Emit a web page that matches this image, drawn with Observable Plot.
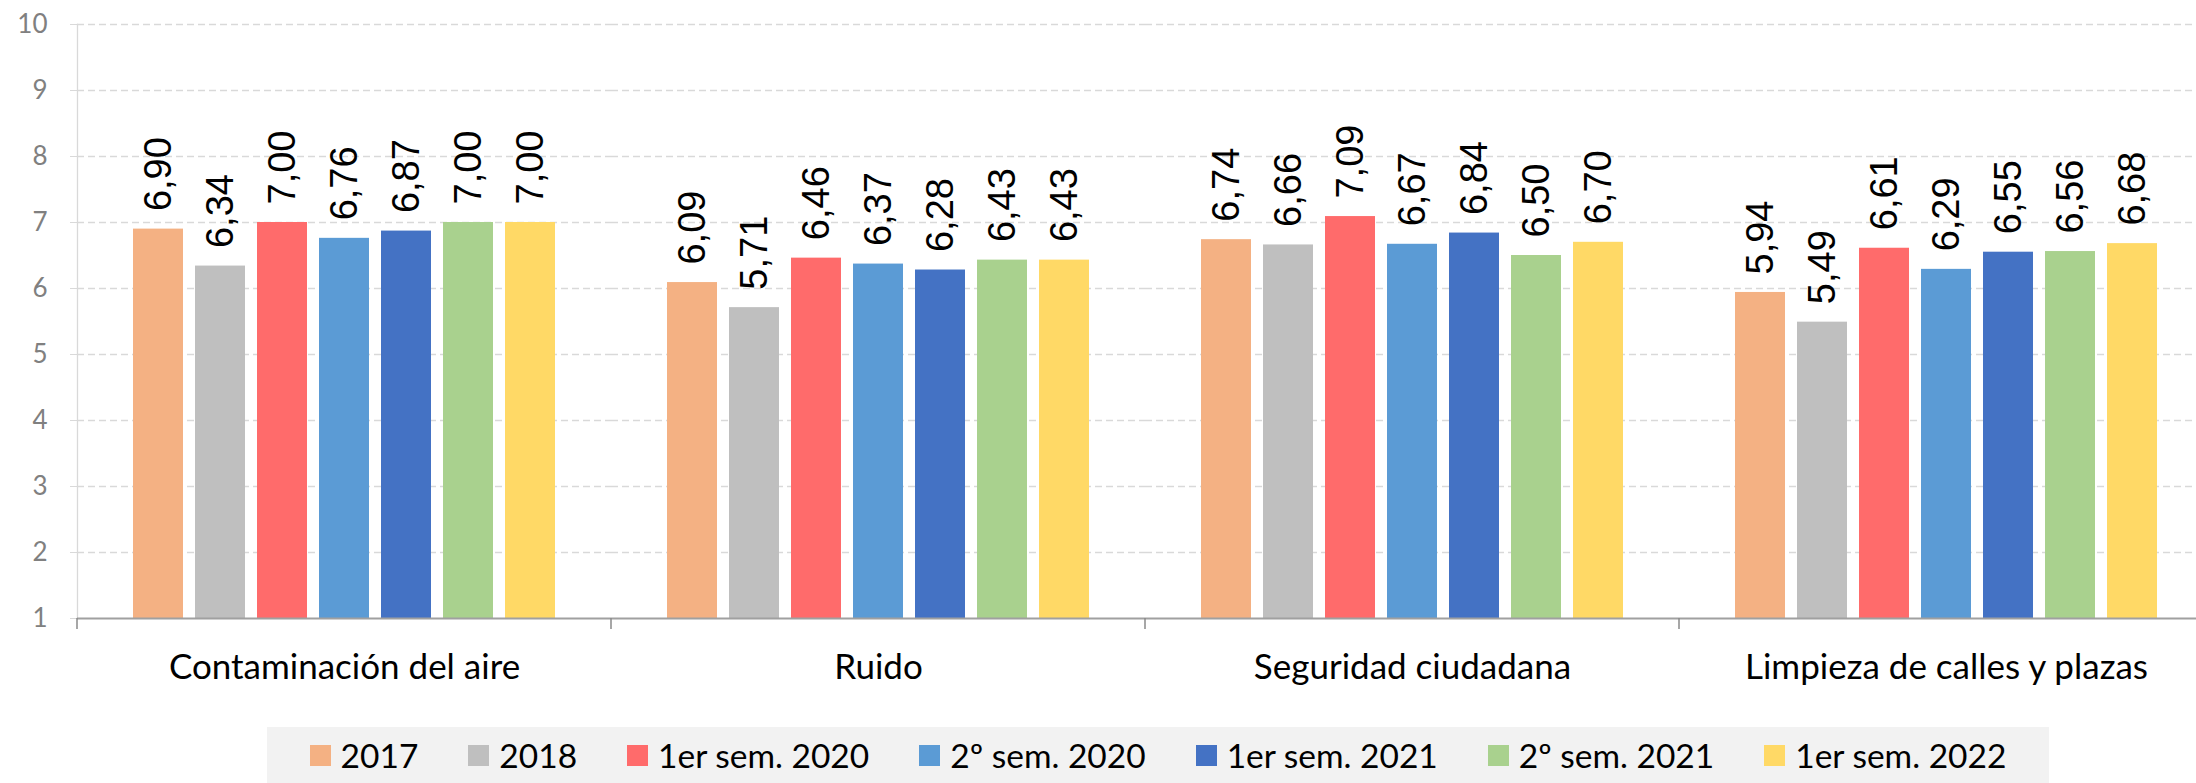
<!DOCTYPE html>
<html>
<head>
<meta charset="utf-8">
<script src="https://cdn.jsdelivr.net/npm/d3@7"></script>
<script src="https://cdn.jsdelivr.net/npm/@observablehq/plot@0.6"></script>
<style>
  html, body { margin: 0; padding: 0; background: white; overflow: hidden; }
  #chart { width: 2196px; }
  #legendBox {
    margin-left: 267px; width: 1782px; height: 56px; background: #f2f2f2;
    display: flex; align-items: center; justify-content: center;
  }
  .lg-swatches { display: flex !important; align-items: center; justify-content: center;
    font-family: Lato, sans-serif !important; font-size: 33.5px !important; color: #000 !important; margin: 0 !important; }
  .lg-swatch { margin-right: 50px !important; display: inline-flex; align-items: center; }
  .lg-swatch:last-child { margin-right: 0 !important; }
  .lg-swatch > svg { margin-right: 10px !important; }
</style>
</head>
<body>
<div id="chart"></div>
<script>
const categories = ["Contaminación del aire", "Ruido", "Seguridad ciudadana", "Limpieza de calles y plazas"];
const series = ["2017", "2018", "1er sem. 2020", "2º sem. 2020", "1er sem. 2021", "2º sem. 2021", "1er sem. 2022"];
const colors = ["#F4B183", "#BFBFBF", "#FF6B6B", "#5B9BD5", "#4472C4", "#A9D18E", "#FFD966"];
const valuesAire = [6.90, 6.34, 7.00, 6.76, 6.87, 7.00, 7.00];
const valuesRuido = [6.09, 5.71, 6.46, 6.37, 6.28, 6.43, 6.43];
const valuesSeguridad = [6.74, 6.66, 7.09, 6.67, 6.84, 6.50, 6.70];
const valuesLimpieza = [5.94, 5.49, 6.61, 6.29, 6.55, 6.56, 6.68];
const yTicks = [1, 2, 3, 4, 5, 6, 7, 8, 9, 10];
const baseline = 1;

const valuesByCategory = [valuesAire, valuesRuido, valuesSeguridad, valuesLimpieza];
const data = categories.flatMap((c, i) => series.map((s, j) => ({category: c, series: s, value: valuesByCategory[i][j]})));
const fmt = v => d3.format(".2f")(v).replace(".", ",");

// boundary ticks below the category axis, drawn at each facet's left edge
function boundaryTicks(index, scales, values, dimensions) {
  const y0 = scales.y(baseline);
  const g = document.createElementNS("http://www.w3.org/2000/svg", "g");
  const line = document.createElementNS("http://www.w3.org/2000/svg", "line");
  line.setAttribute("x1", dimensions.marginLeft);
  line.setAttribute("x2", dimensions.marginLeft);
  line.setAttribute("y1", y0);
  line.setAttribute("y2", y0 + 11);
  line.setAttribute("stroke", "#8a8a8a");
  line.setAttribute("stroke-width", 1.5);
  g.appendChild(line);
  return g;
}

const chart = Plot.plot({
  width: 2196,
  height: 727,
  marginLeft: 77,
  marginRight: -17,
  marginTop: 24,
  marginBottom: 109,
  style: {background: "white", fontFamily: "Lato, sans-serif"},
  fx: {domain: categories, padding: 0, label: null},
  x: {domain: series, paddingInner: 0.2, paddingOuter: 0.84, axis: null},
  y: {domain: [1, 10], label: null},
  color: {domain: series, range: colors},
  marks: [
    Plot.ruleY(yTicks.filter(t => t > baseline), {stroke: "#d9d9d9", strokeWidth: 1.3, strokeDasharray: "7,4"}),
    Plot.axisY(yTicks, {anchor: "left", tickSize: 10, tickPadding: 20, fontSize: 26, fill: "#808080", stroke: "#d9d9d9",
      strokeDasharray: "7,4", tickFormat: d => String(d), label: null}),
    Plot.frame({anchor: "left", facetAnchor: "left", stroke: "#d9d9d9", strokeWidth: 1.3}),
    Plot.barY(data, {fx: "category", x: "series", y1: baseline, y2: "value", fill: "series"}),
    Plot.ruleY([baseline], {stroke: "#a0a0a0", strokeWidth: 1.8}),
    boundaryTicks,
    Plot.text(data, {fx: "category", x: "series", y: "value", text: d => fmt(d.value), rotate: -90,
      textAnchor: "start", lineAnchor: "middle", dy: -18, fontSize: 38, fontFamily: "Liberation Sans, Arial, sans-serif", fill: "#000"}),
    Plot.axisFx({anchor: "bottom", tickSize: 0, tickPadding: 36, fontSize: 35, fill: "#000", label: null})
  ]
});

document.getElementById("chart").appendChild(chart);
const box = document.createElement("div");
box.id = "legendBox";
box.appendChild(chart.legend("color", {swatchSize: 21, className: "lg"}));
document.body.appendChild(box);
</script>
</body>
</html>
